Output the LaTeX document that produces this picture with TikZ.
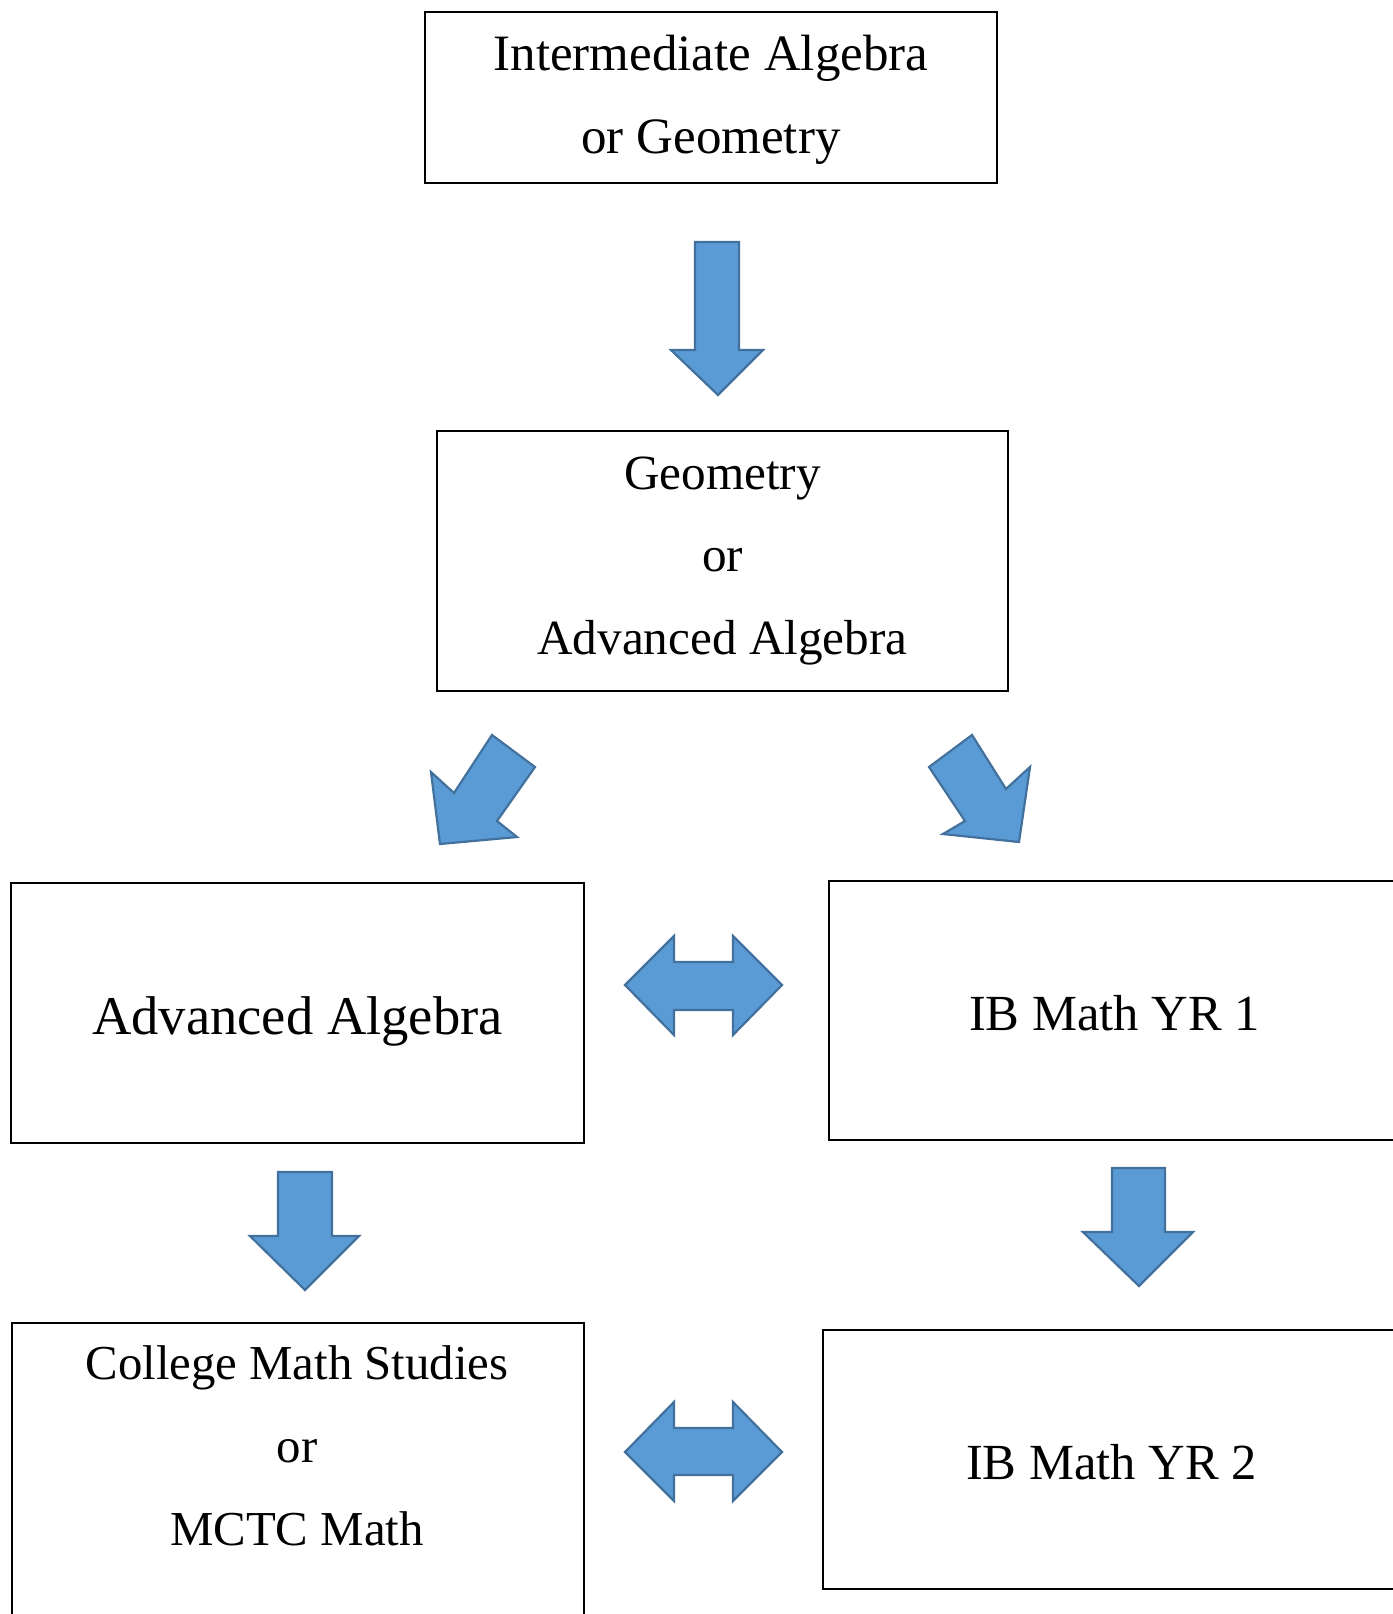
\documentclass[tikz,border=0pt]{standalone}
\usepackage{fontspec}
\setmainfont{Liberation Serif}
\definecolor{arrowfill}{HTML}{5B9BD5}
\definecolor{arrowline}{HTML}{41719C}
\newcommand{\lowertext}[2]{\raisebox{-#1}[\height][\depth]{#2}}
\tikzset{
  box/.style={draw=black, line width=1pt, inner sep=0pt, align=center},
  blockarrow/.style={fill=arrowfill, draw=arrowline, line width=1.1pt, line join=miter},
  lbl/.style={inner sep=0pt, align=center}
}
\begin{document}
\begin{tikzpicture}[x=0.5pt,y=-0.5pt]
\useasboundingbox (0,0) rectangle (1393,1614);
\clip (0,0) rectangle (1393,1614);
\fill[white] (0,0) rectangle (1393,1614);

% boxes
\node[box, minimum width=286pt, minimum height=85.5pt, font={\fontsize{25.5}{41.5}\selectfont}] (b1) at (711,97.5)
  {\lowertext{1pt}{Intermediate Algebra}\\\lowertext{1pt}{or Geometry}};
\node[box, minimum width=285.5pt, minimum height=130pt, font={\fontsize{24.6}{41.25}\selectfont}] (b2) at (722.5,561)
  {Geometry\\or\\Advanced Algebra};
\node[box, minimum width=286.5pt, minimum height=130pt, font={\fontsize{27.3}{41}\selectfont}] (b3) at (297.5,1013)
  {\lowertext{4pt}{Advanced Algebra}};
\node[box, minimum width=285.5pt, minimum height=129.5pt, font={\fontsize{25.3}{41}\selectfont}] (b4) at (1114.5,1010.5)
  {\lowertext{1.5pt}{IB Math YR 1}};
\node[box, minimum width=288.5pt, minimum height=129.5pt, font={\fontsize{25.3}{41}\selectfont}] (b6) at (1111.5,1459.5)
  {\lowertext{1.5pt}{IB Math YR 2}};
\node[box, minimum width=286pt, minimum height=169pt, anchor=north west] (b5) at (11,1322) {};
\node[lbl, font={\fontsize{24.4}{41.5}\selectfont}] (t5) at (297,1446)
  {College Math Studies\\or\\MCTC Math};

% down arrows
\draw[blockarrow] (695,242) -- (739,242) -- (739,350) -- (763,350) -- (718,395) -- (671,350) -- (695,350) -- cycle;
\draw[blockarrow] (278,1172) -- (332,1172) -- (332,1236) -- (359,1236) -- (305,1290) -- (250,1236) -- (278,1236) -- cycle;
\draw[blockarrow] (1112,1168) -- (1165,1168) -- (1165,1232) -- (1193,1232) -- (1139,1286) -- (1083,1232) -- (1112,1232) -- cycle;

% diagonal arrows
\draw[blockarrow] (492,735) -- (535,767) -- (497,821) -- (517,837) -- (440,844) -- (431,772) -- (454,793) -- cycle;
\draw[blockarrow] (972,735) -- (929,767) -- (965,821) -- (943,834) -- (1019,842) -- (1030,767) -- (1006,789) -- cycle;

% double arrows
\draw[blockarrow] (625,985) -- (674,936) -- (674,962) -- (733,962) -- (733,936) -- (782,985) -- (733,1035) -- (733,1010) -- (674,1010) -- (674,1035) -- cycle;
\draw[blockarrow] (625,1452) -- (674,1402) -- (674,1428) -- (733,1428) -- (733,1402) -- (782,1452) -- (733,1501) -- (733,1475) -- (674,1475) -- (674,1501) -- cycle;
\end{tikzpicture}
\end{document}
